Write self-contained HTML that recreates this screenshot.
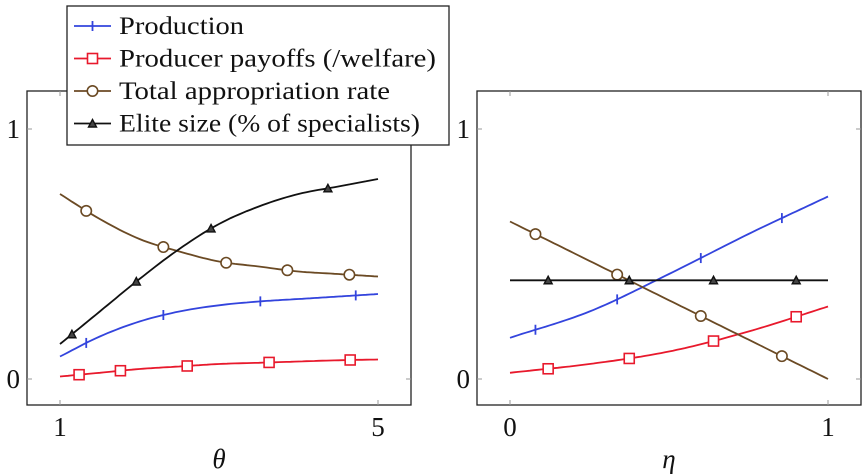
<!DOCTYPE html>
<html><head><meta charset="utf-8"><style>body{margin:0;background:#fff}svg{display:block}text{font-family:"Liberation Serif",serif;fill:#111}</style></head>
<body>
<svg id="c" width="866" height="475"></svg>
<script>
// Left panel data (theta)
const thetaX=[1,1.5,2,2.5,3,3.5,4,4.5,5];
const leftProduction=[0.09,0.17,0.23,0.27,0.295,0.31,0.32,0.33,0.34];
const leftPayoffs=[0.01,0.025,0.04,0.05,0.06,0.065,0.07,0.075,0.078];
const leftApprop=[0.74,0.64,0.56,0.51,0.47,0.45,0.43,0.42,0.41];
const leftElite=[0.14,0.27,0.40,0.52,0.62,0.69,0.74,0.77,0.80];
const leftMarkProd=[1.33,2.3,3.52,4.72];
const leftMarkPay=[1.24,1.76,2.6,3.63,4.65];
const leftMarkApp=[1.33,2.3,3.09,3.86,4.64];
const leftMarkElite=[1.15,1.96,2.9,4.37];
// Right panel data (eta)
const etaX=[0,0.25,0.5,0.75,1];
const rightProduction=[0.165,0.27,0.42,0.58,0.73];
const rightPayoffs=[0.025,0.06,0.11,0.19,0.29];
const rightApprop=[0.63,0.4725,0.315,0.1575,0];
const rightElite=[0.395,0.395,0.395,0.395,0.395];
const rightMarks=[0.08,0.337,0.6,0.855];
const rightMarksB=[0.12,0.375,0.64,0.9];
const xTicksL=["1","5"],xTicksR=["0","1"],yTicks=["0","1"];

const NS="http://www.w3.org/2000/svg",svg=document.getElementById('c');
function mk(t,a,p){const e=document.createElementNS(NS,t);for(const k in a)e.setAttribute(k,a[k]);(p||svg).appendChild(e);return e;}
function interp(xs,ys,x){const n=ys.length;for(let i=0;i<n-1;i++){if(x<=xs[i+1]){const t=(x-xs[i])/(xs[i+1]-xs[i]);
 const p1=ys[i],p2=ys[i+1];
 const p0=i>0?ys[i-1]:2*ys[0]-ys[1];
 const p3=i+2<n?ys[i+2]:2*ys[n-1]-ys[n-2];
 return 0.5*((2*p1)+(-p0+p2)*t+(2*p0-5*p1+4*p2-p3)*t*t+(-p0+3*p1-3*p2+p3)*t*t*t);}}return ys[n-1];}
function panel(name,x0,x1,px0,px1,ticks,xs,series,label){
 const sx=v=>px0+(v-x0)/(x1-x0)*(px1-px0), sy=v=>379-v*250;
 const g=mk('g',{});
 const fx=px0-33,fw=(px1-px0)+66;
 const fr=mk('rect',{x:fx,y:91,width:fw,height:314,fill:'none',stroke:'#222','stroke-width':1.3},g);
 
 [x0,x1].forEach((v,i)=>{mk('line',{x1:sx(v),x2:sx(v),y1:91,y2:96,stroke:'#999'},g);mk('line',{x1:sx(v),x2:sx(v),y1:400,y2:405,stroke:'#999'},g);
  const t=mk('text',{x:sx(v),y:436,'font-size':27,'text-anchor':'middle'},g);t.textContent=ticks[i];
  });
 [0,1].forEach(v=>{mk('line',{x1:fx,x2:fx+5,y1:sy(v),y2:sy(v),stroke:'#999'},g);mk('line',{x1:fx+fw-5,x2:fx+fw,y1:sy(v),y2:sy(v),stroke:'#999'},g);
  const t=mk('text',{x:fx-7,y:sy(v)+9,'font-size':27,'text-anchor':'end'},g);t.textContent=yTicks[v];
  });
 const xl=mk('text',{x:(px0+px1)/2,y:468,'font-size':27,'font-style':'italic','text-anchor':'middle'},g);xl.textContent=label;
 
 series.forEach(s=>{let d='';for(let k=0;k<=80;k++){const v=x0+(x1-x0)*k/80;d+=(k?'L':'M')+sx(v).toFixed(1)+','+sy(interp(xs,s.y,v)).toFixed(1);}
  const p=mk('path',{d:d,fill:'none',stroke:s.c,'stroke-width':1.8},g);
  s.m.forEach(mv=>{const cx=sx(mv),cy=sy(interp(xs,s.y,mv));marker(g,s.t,cx,cy,s.c,s.n);});});
}
function marker(g,t,cx,cy,c,n){let e;
 if(t=='+')e=mk('line',{x1:cx,x2:cx,y1:cy-5,y2:cy+5,stroke:c,'stroke-width':1.8},g);
 else if(t=='s')e=mk('rect',{x:cx-5,y:cy-5,width:10,height:10,fill:'#fff',stroke:c,'stroke-width':1.6},g);
 else if(t=='o')e=mk('circle',{cx:cx,cy:cy,r:5.2,fill:'#fff',stroke:c,'stroke-width':1.6},g);
 else e=mk('path',{d:`M${cx-4},${cy+3.5}L${cx+4},${cy+3.5}L${cx},${cy-4}Z`,fill:'#444',stroke:c,'stroke-width':1.4},g);
 }
const B='#3344dd',R='#e8192c',Br='#6b4a24',K='#111';
panel('left-panel',1,5,60,378,xTicksL,thetaX,[
 {n:'production',y:leftProduction,c:B,t:'+',m:leftMarkProd},
 {n:'payoffs',y:leftPayoffs,c:R,t:'s',m:leftMarkPay},
 {n:'appropriation',y:leftApprop,c:Br,t:'o',m:leftMarkApp},
 {n:'elite',y:leftElite,c:K,t:'^',m:leftMarkElite}],'θ');
panel('right-panel',0,1,510,828,xTicksR,etaX,[
 {n:'production',y:rightProduction,c:B,t:'+',m:rightMarks},
 {n:'payoffs',y:rightPayoffs,c:R,t:'s',m:rightMarksB},
 {n:'appropriation',y:rightApprop,c:Br,t:'o',m:rightMarks},
 {n:'elite',y:rightElite,c:K,t:'^',m:rightMarksB}],'η');
// legend
const lg=mk('g',{});
mk('rect',{x:67,y:6,width:382,height:139,fill:'#fff',stroke:'#222','stroke-width':1.3},lg);
const items=[['Production',B,'+',125],['Producer payoffs (/welfare)',R,'s',317],['Total appropriation rate',Br,'o',271],['Elite size (% of specialists)',K,'^',301]];
items.forEach((it,i)=>{const y=26+i*32.5;
 const l=mk('line',{x1:74,x2:111,y1:y,y2:y,stroke:it[1],'stroke-width':1.8},lg);
 marker(lg,it[2],92.5,y,it[1],'legend');
 const t=mk('text',{x:119,y:y+8,'font-size':25,textLength:it[3],lengthAdjust:'spacingAndGlyphs'},lg);t.textContent=it[0];
 });
</script>
</body></html>
